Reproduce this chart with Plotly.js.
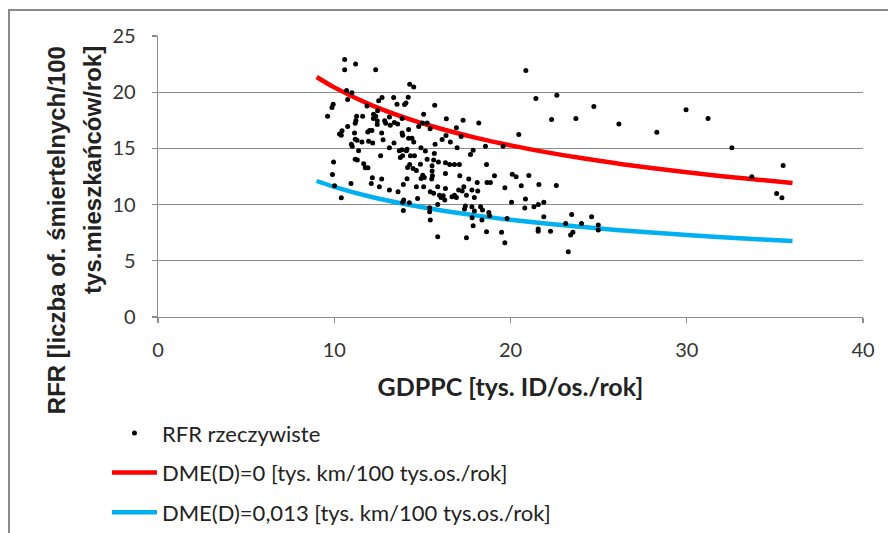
<!DOCTYPE html>
<html><head><meta charset="utf-8">
<script src="https://cdn.plot.ly/plotly-3.0.1.min.js"></script>
<style>
html,body{margin:0;padding:0;width:888px;height:533px;overflow:hidden;background:#fff;}
#frame{position:absolute;left:8px;top:9px;width:1000px;height:1000px;border:2px solid #8a8a8a;box-sizing:border-box;}
#chart{position:absolute;left:0;top:0;width:888px;height:533px;}
</style></head><body>
<div id="frame"></div>
<div id="chart"></div>
<script>
// Observed points: GDPPC [tys. ID/os./rok] vs RFR
var gdppc = [10.59,10.59,11.21,12.35,20.87,14.28,14.51,10.7,11.0,10.76,12.71,12.52,13.37,13.56,14.2,14.07,13.99,15.7,11.86,9.94,
 9.87,9.62,12.46,12.23,12.35,12.22,11.27,11.61,11.23,11.19,10.76,12.44,12.44,12.86,12.92,13.13,13.41,13.6,12.0,12.14,
 11.9,10.44,10.3,10.4,11.15,12.69,13.88,15.07,15.0,15.27,14.79,15.44,16.36,17.31,18.2,16.93,17.2,14.22,13.85,14.22,
 14.41,16.34,16.12,21.44,22.63,24.73,22.33,23.71,20.47,26.15,28.3,29.96,31.21,32.56,33.69,35.47,35.1,35.4,11.19,11.29,
 11.57,11.95,12.18,12.77,10.97,11.02,11.38,13.13,13.39,13.69,13.84,12.63,13.75,13.88,11.19,11.31,9.96,11.67,11.76,11.91,
 9.9,12.16,12.69,12.1,10.95,10.02,12.56,13.13,13.62,13.92,10.4,13.94,13.88,13.92,14.51,16.59,14.13,14.09,14.92,15.17,
 15.72,16.97,17.73,17.88,18.58,14.32,14.55,15.27,15.64,15.91,14.28,14.16,14.47,14.66,14.89,15.55,15.55,16.31,16.55,16.82,
 17.1,16.31,17.12,18.64,14.13,15.02,15.11,14.93,15.57,15.53,17.63,18.11,14.66,15.07,15.87,16.31,17.35,17.06,17.26,17.81,
 18.14,15.45,15.64,15.97,16.06,16.18,16.68,16.82,16.93,17.5,17.95,14.73,16.27,15.87,17.44,17.39,17.81,17.95,18.3,18.41,
 15.41,15.41,15.45,17.82,17.88,18.64,15.87,17.5,18.77,18.67,18.86,19.09,20.1,20.32,21.04,19.68,20.61,21.61,22.6,20.06,
 20.85,20.81,21.33,21.58,21.89,18.81,19.81,21.89,19.49,19.68,21.57,21.57,22.27,23.13,23.47,23.54,23.41,24.03,24.6,24.98,
 24.98,23.28,14.26,18.38,19.58,15.68,13.85,13.18];
var rfr = [22.9,22.0,22.5,22.0,21.93,20.71,20.47,20.15,19.94,19.35,19.53,19.23,19.53,18.93,19.56,19.05,18.9,18.84,18.78,18.93,
 18.64,17.87,18.34,18.04,17.87,17.66,17.87,17.87,17.48,17.24,16.95,17.45,17.13,17.45,17.24,17.8,17.3,17.18,16.59,16.59,
 16.47,16.56,16.29,16.18,16.36,16.36,16.18,18.04,17.27,17.27,16.95,16.74,17.63,17.51,17.27,16.83,16.06,16.68,16.38,15.91,
 15.91,16.15,15.8,19.44,19.73,18.73,17.57,17.66,16.24,17.16,16.44,18.43,17.66,15.05,12.47,13.48,10.99,10.6,15.82,15.73,
 15.58,15.64,15.49,15.76,15.38,15.2,14.78,15.05,15.49,14.78,14.87,14.34,14.2,14.34,14.04,13.96,13.78,13.63,13.27,13.27,
 12.68,12.38,12.27,11.88,11.88,11.67,11.58,11.29,11.14,11.79,10.6,10.4,10.22,9.48,15.58,15.58,14.93,14.78,15.05,14.76,
 15.38,15.05,14.46,14.84,15.2,14.34,14.34,14.04,13.96,13.8,13.57,13.31,13.21,13.04,13.6,13.45,12.98,13.72,13.57,13.57,
 13.57,12.77,12.56,13.57,12.29,12.62,12.41,12.33,12.56,12.27,12.27,11.97,11.58,11.58,11.58,11.44,11.58,11.29,11.2,11.29,
 11.2,11.14,11.0,10.84,10.64,10.78,10.7,10.84,10.64,10.84,10.64,10.55,10.4,10.02,9.87,9.6,9.81,9.42,9.81,9.51,
 9.72,9.36,8.62,8.83,8.12,7.58,7.14,7.05,9.3,11.97,11.97,12.56,12.71,12.47,12.59,11.5,11.67,11.79,11.7,10.2,
 10.49,9.69,9.81,10.02,10.2,9.0,8.77,8.92,7.53,6.61,7.82,7.64,7.64,8.32,9.13,7.53,7.29,8.32,8.92,8.18,
 7.73,5.81,10.16,8.62,15.2,14.55,17.66,17.07];

// Model curves
var curveX    = [9,10,12,14,16,18,20,22,24,26,28,30,32,34,36];
var curveRed  = [21.35,20.43,18.92,17.74,16.77,15.96,15.27,14.67,14.14,13.67,13.25,12.87,12.53,12.22,11.92];
var curveBlue = [12.1,11.58,10.72,10.05,9.5,9.04,8.65,8.31,8.02,7.75,7.51,7.3,7.1,6.92,6.76];

var xTicks = [0,10,20,30,40];
var yTicks = [0,5,10,15,20,25];

var names = ['RFR rzeczywiste','DME(D)=0 [tys. km/100 tys.os./rok]','DME(D)=0,013 [tys. km/100 tys.os./rok]'];
var yTitleLines = ['RFR [liczba of. śmiertelnych/100','tys.mieszkańców/rok]'];

var traces = [
 {x:curveX,y:curveRed,type:'scatter',mode:'lines',name:names[1],legendgroup:'b',legendrank:2,
  line:{color:'#ff0000',width:4.5,shape:'spline'}},
 {x:curveX,y:curveBlue,type:'scatter',mode:'lines',name:names[2],legendgroup:'c',legendrank:3,
  line:{color:'#00b0f0',width:4.5,shape:'spline'}},
 {x:gdppc,y:rfr,type:'scatter',mode:'markers',name:names[0],legendgroup:'a',legendrank:1,
  marker:{color:'#000000',size:5}}
];

var gridC = '#8c8c8c';
var titleFont = {family:'Liberation Sans, Arial, sans-serif',size:24,color:'#222',weight:'bold'};
var layout = {
 width:888,height:533,
 margin:{l:158,r:25,t:36,b:216,pad:0,autoexpand:false},
 paper_bgcolor:'rgba(0,0,0,0)',plot_bgcolor:'rgba(0,0,0,0)',
 showlegend:true,
 xaxis:{range:[0,40],tickvals:xTicks,showgrid:false,zeroline:false,showline:true,linecolor:gridC,linewidth:1.3,
  ticks:'outside',ticklen:5,tickcolor:gridC,tickwidth:1.3,ticklabelstandoff:10,automargin:false,
  tickfont:{family:'Lato, sans-serif',size:20,color:'#333'},
  title:{text:'GDPPC [tys. ID/os./rok]',standoff:18,font:{family:'Lato, sans-serif',size:25,color:'#222',weight:'bold'}}},
 yaxis:{range:[0,25],tickvals:yTicks,showgrid:true,gridcolor:gridC,gridwidth:1.3,zeroline:false,showline:true,linecolor:gridC,linewidth:1.3,
  ticks:'outside',ticklen:5,tickcolor:gridC,tickwidth:1.3,ticklabelstandoff:12,automargin:false,
  tickfont:{family:'Lato, sans-serif',size:20,color:'#333'}},
 legend:{x:-0.0724,y:-0.3387,xanchor:'left',yanchor:'top',orientation:'v',traceorder:'grouped',tracegroupgap:8,
  itemwidth:45,bgcolor:'rgba(0,0,0,0)',font:{family:'Lato, sans-serif',size:22,color:'#222'}},
 annotations:[
  {text:yTitleLines[0],xref:'paper',yref:'paper',x:-0.143,y:0.9716,xanchor:'center',yanchor:'top',
   textangle:-90,showarrow:false,font:titleFont},
  {text:yTitleLines[1],xref:'paper',yref:'paper',x:-0.0923,y:0.9716,xanchor:'center',yanchor:'top',
   textangle:-90,showarrow:false,font:titleFont}
 ]
};
Plotly.newPlot('chart',traces,layout,{staticPlot:true,displayModeBar:false});
</script></body></html>
